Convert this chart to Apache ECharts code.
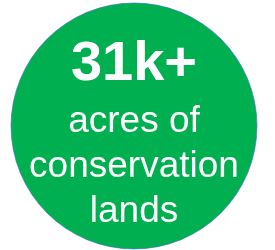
<!DOCTYPE html>
<html>
<head>
<meta charset="utf-8">
<script src="https://cdn.jsdelivr.net/npm/echarts@6/dist/echarts.min.js"></script>
<style>
  html, body { margin: 0; padding: 0; background: #fff; }
  #chartWrap { width: 275px; height: 250px; }
</style>
</head>
<body>
<div id="chartWrap"></div>
<script>
// 文本内容
var headline = '31k+';
var subLines = ['acres of', 'conservation', 'lands'];

var myChart = echarts.init(document.getElementById('chartWrap'));

var elements = [{
  type: 'circle',
  shape: { cx: 134, cy: 126, r: 123 },
  style: { fill: '#00B050', stroke: '#3a6fc4', lineWidth: 0.6 }
}, {
  type: 'text',
  x: 134,
  y: 65,
  style: {
    text: headline,
    fill: '#fff',
    font: 'bold 56px "Liberation Sans", Arial, sans-serif',
    align: 'center',
    verticalAlign: 'middle'
  }
}];

// 副标题逐行
for (var i = 0; i < subLines.length; i++) {
  elements.push({
    type: 'text',
    x: 134,
    y: 122 + i * 45,
    style: {
      text: subLines[i],
      fill: '#fff',
      font: '37px "Liberation Sans", Arial, sans-serif',
      align: 'center',
      verticalAlign: 'middle'
    }
  });
}

myChart.setOption({
  animation: false,
  graphic: elements
});
</script>
</body>
</html>
